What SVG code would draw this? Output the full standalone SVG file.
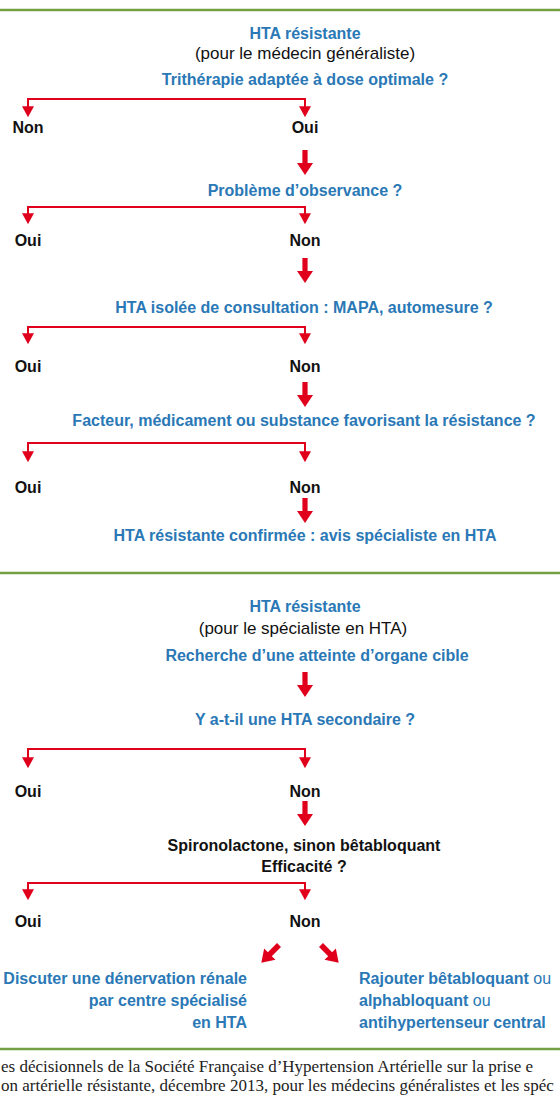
<svg xmlns="http://www.w3.org/2000/svg" xmlns:xlink="http://www.w3.org/1999/xlink" width="560" height="1120" viewBox="0 0 560 1120">
<style>
text{font-family:"Liberation Sans",Arial,sans-serif}
.q{font-weight:bold;font-size:16px;fill:#2a78b6;text-anchor:middle}
.k{font-weight:bold;font-size:16px;fill:#111;text-anchor:middle}
.r{font-size:17px;fill:#111;text-anchor:middle}
.bl{font-weight:bold;font-size:16px;fill:#2a78b6}
.rg{font-weight:normal}
.cap{font-family:"Liberation Serif","Times New Roman",serif;font-size:17px;fill:#222}
.sep{stroke:#74a044;stroke-width:2.5}
.br{fill:none;stroke:#e1001c;stroke-width:2;marker-start:url(#ah);marker-end:url(#ah)}
.ta{fill:#e1001c}
</style>
<defs>
<marker id="ah" viewBox="0 0 10 10" refX="8" refY="5" markerWidth="11" markerHeight="12" markerUnits="userSpaceOnUse" orient="auto-start-reverse" preserveAspectRatio="none">
<path d="M0,0 L10,5 L0,10 Z" fill="#e1001c"/>
</marker>
<path id="thick" d="M-2.6,0 H2.6 V13 H8 L0,25 L-8,13 H-2.6 Z"/>
<path id="diag" d="M-2.8,0 H2.8 V13 H8 L0,25 L-8,13 H-2.8 Z"/>
</defs>
<rect width="560" height="1120" fill="#fff"/>
<line class="sep" x1="0" y1="10" x2="560" y2="10"/>
<line class="sep" x1="0" y1="573" x2="560" y2="573"/>
<line class="sep" x1="0" y1="1049" x2="560" y2="1049"/>

<g id="connectors">
<path class="br" d="M28,115 V99 H305 V115"/>
<use class="ta" href="#thick" x="305" y="150"/>
<path class="br" d="M28,222 V207 H305 V222"/>
<use class="ta" href="#thick" x="305" y="258"/>
<path class="br" d="M28,342 V327 H305 V342"/>
<use class="ta" href="#thick" x="305" y="382"/>
<path class="br" d="M28,460 V443 H305 V460"/>
<use class="ta" href="#thick" x="305" y="498"/>
<use class="ta" href="#thick" x="305" y="672"/>
<path class="br" d="M28,766 V749 H305 V766"/>
<use class="ta" href="#thick" x="305" y="801"/>
<path class="br" d="M28,898 V883 H305 V898"/>
<use class="ta" href="#diag" transform="translate(279,945) rotate(45)"/>
<use class="ta" href="#diag" transform="translate(321,945) rotate(-45)"/>
</g>

<g id="n1"><text class="q" x="305" y="39">HTA résistante</text><text class="r" x="305" y="59">(pour le médecin généraliste)</text><text class="q" x="305" y="85">Trithérapie adaptée à dose optimale ?</text></g>
<g id="n1-non"><text class="k" x="28" y="133">Non</text></g>
<g id="n1-oui"><text class="k" x="305" y="133">Oui</text></g>
<g id="n2"><text class="q" x="305" y="196">Problème d’observance ?</text></g>
<g id="n2-oui"><text class="k" x="28" y="246">Oui</text></g>
<g id="n2-non"><text class="k" x="305" y="246">Non</text></g>
<g id="n3"><text class="q" x="304" y="313">HTA isolée de consultation : MAPA, automesure ?</text></g>
<g id="n3-oui"><text class="k" x="28" y="372">Oui</text></g>
<g id="n3-non"><text class="k" x="305" y="372">Non</text></g>
<g id="n4"><text class="q" x="304" y="426">Facteur, médicament ou substance favorisant la résistance ?</text></g>
<g id="n4-oui"><text class="k" x="28" y="493">Oui</text></g>
<g id="n4-non"><text class="k" x="305" y="493">Non</text></g>
<g id="n5"><text class="q" x="305" y="541">HTA résistante confirmée : avis spécialiste en HTA</text></g>

<g id="s1"><text class="q" x="305" y="612">HTA résistante</text><text class="r" x="303" y="634">(pour le spécialiste en HTA)</text><text class="q" x="317" y="661">Recherche d’une atteinte d’organe cible</text></g>
<g id="s2"><text class="q" x="305" y="725">Y a-t-il une HTA secondaire ?</text></g>
<g id="s2-oui"><text class="k" x="28" y="797">Oui</text></g>
<g id="s2-non"><text class="k" x="305" y="797">Non</text></g>
<g id="s3"><text class="k" x="304" y="851">Spironolactone, sinon bêtabloquant</text><text class="k" x="304" y="872">Efficacité ?</text></g>
<g id="s3-oui"><text class="k" x="28" y="927">Oui</text></g>
<g id="s3-non"><text class="k" x="305" y="927">Non</text></g>
<g id="s4"><text class="bl" x="247" y="984" text-anchor="end">Discuter une dénervation rénale</text><text class="bl" x="247" y="1006" text-anchor="end">par centre spécialisé</text><text class="bl" x="247" y="1028" text-anchor="end">en HTA</text></g>
<g id="s5"><text class="bl" x="359" y="984">Rajouter bêtabloquant<tspan class="rg"> ou</tspan></text><text class="bl" x="359" y="1006">alphabloquant<tspan class="rg"> ou</tspan></text><text class="bl" x="359" y="1028">antihypertenseur central</text></g>

<g id="caption"><text class="cap" x="1" y="1072">es décisionnels de la Société Française d’Hypertension Artérielle sur la prise e</text><text class="cap" x="1" y="1091">on artérielle résistante, décembre 2013, pour les médecins généralistes et les spéc</text></g>
</svg>
